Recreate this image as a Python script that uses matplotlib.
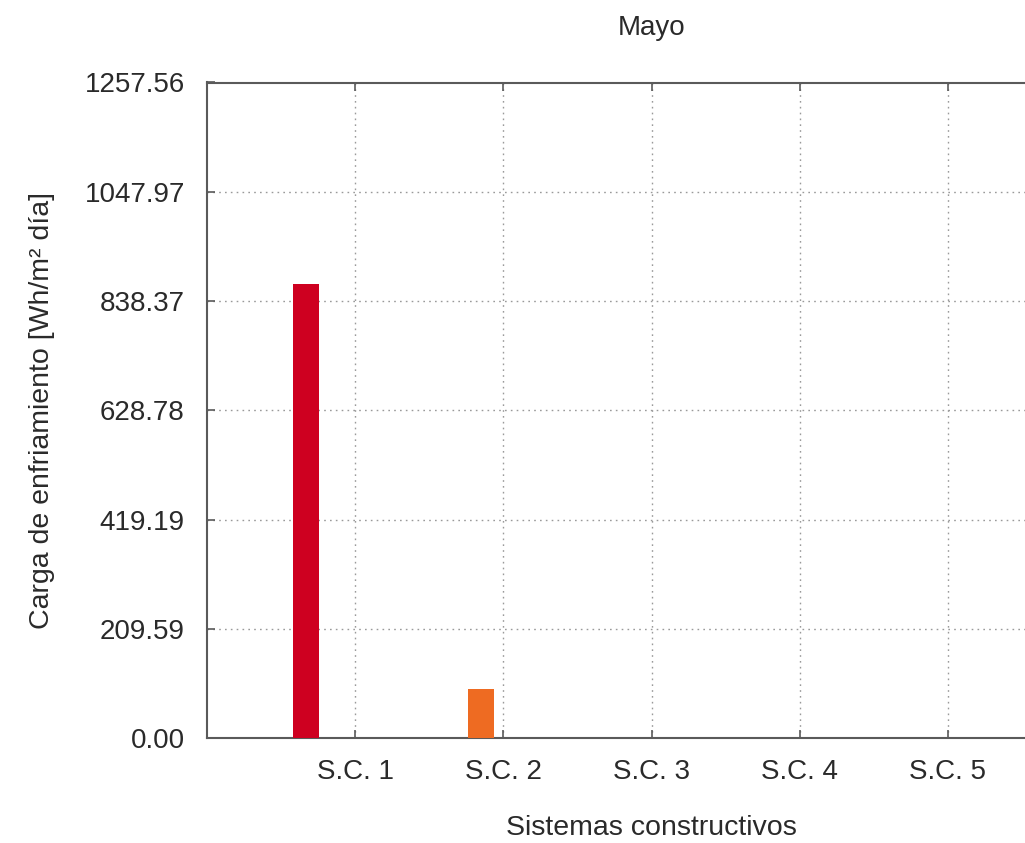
import matplotlib
matplotlib.use("Agg")
import matplotlib.pyplot as plt
import numpy as np

# Cooling load per construction system (May)
categories = ["S.C. 1", "S.C. 2", "S.C. 3", "S.C. 4", "S.C. 5"]
cooling_load = [871.1, 93.4, 0.0, 0.0, 0.0]
bar_colors = ["#CE0020", "#EE6B22", "#F2A43A", "#8CB83C", "#2E7FC0"]
y_max = 1257.56
title = "Mayo"
x_label = "Sistemas constructivos"
y_label = "Carga de enfriamiento [Wh/m² día]"

plt.rcParams["font.family"] = ["Liberation Sans", "DejaVu Sans"]

fig = plt.figure(figsize=(10.25, 8.43), dpi=100)
W, H = 1025, 843
# Plot frame in pixel coordinates; the right side runs past the figure edge
left, right, top, bottom = 207, 1096, 82.5, 738
ax = fig.add_axes([left / W, 1 - bottom / H, (right - left) / W, (bottom - top) / H])

x = np.arange(1, len(categories) + 1)
width = 0.181
offsets = -0.332 + width * np.arange(len(categories))
ax.bar(x + offsets, cooling_load, width=width, color=bar_colors, zorder=3)

ax.set_xlim(0, 6)
ax.set_ylim(0, y_max)
yticks = np.linspace(0, y_max, 7)
ax.set_yticks(yticks)
ax.set_yticklabels([f"{v:.2f}" for v in yticks])
ax.set_xticks(x)
ax.set_xticklabels(categories)

ax.grid(True, linestyle=(0, (1.2, 3)), color="#9a9a9a", linewidth=1.0, zorder=0)
ax.set_axisbelow(True)

for side in ["left", "bottom", "top", "right"]:
    ax.spines[side].set_color("#5a5a5a")
    ax.spines[side].set_linewidth(1.5)

text_color = "#2a2a2a"
ax.tick_params(axis="both", direction="in", length=6, width=1.2, color="#5a5a5a",
               labelsize=20, labelcolor=text_color, top=True, right=True)
ax.tick_params(axis="y", pad=16)
ax.tick_params(axis="x", pad=15)

ax.set_xlabel(x_label, fontsize=20.5, color=text_color, va="center")
ax.xaxis.set_label_coords(0.5, (bottom - 828) / (bottom - top))
ax.set_ylabel(y_label, fontsize=20.5, color=text_color, va="center")
ax.yaxis.set_label_coords((42 - left) / (right - left), 0.5)
ax.text(0.5, (bottom - 28) / (bottom - top), title, transform=ax.transAxes,
        fontsize=20, color=text_color, ha="center", va="center")

fig.savefig("out.png", dpi=100)
